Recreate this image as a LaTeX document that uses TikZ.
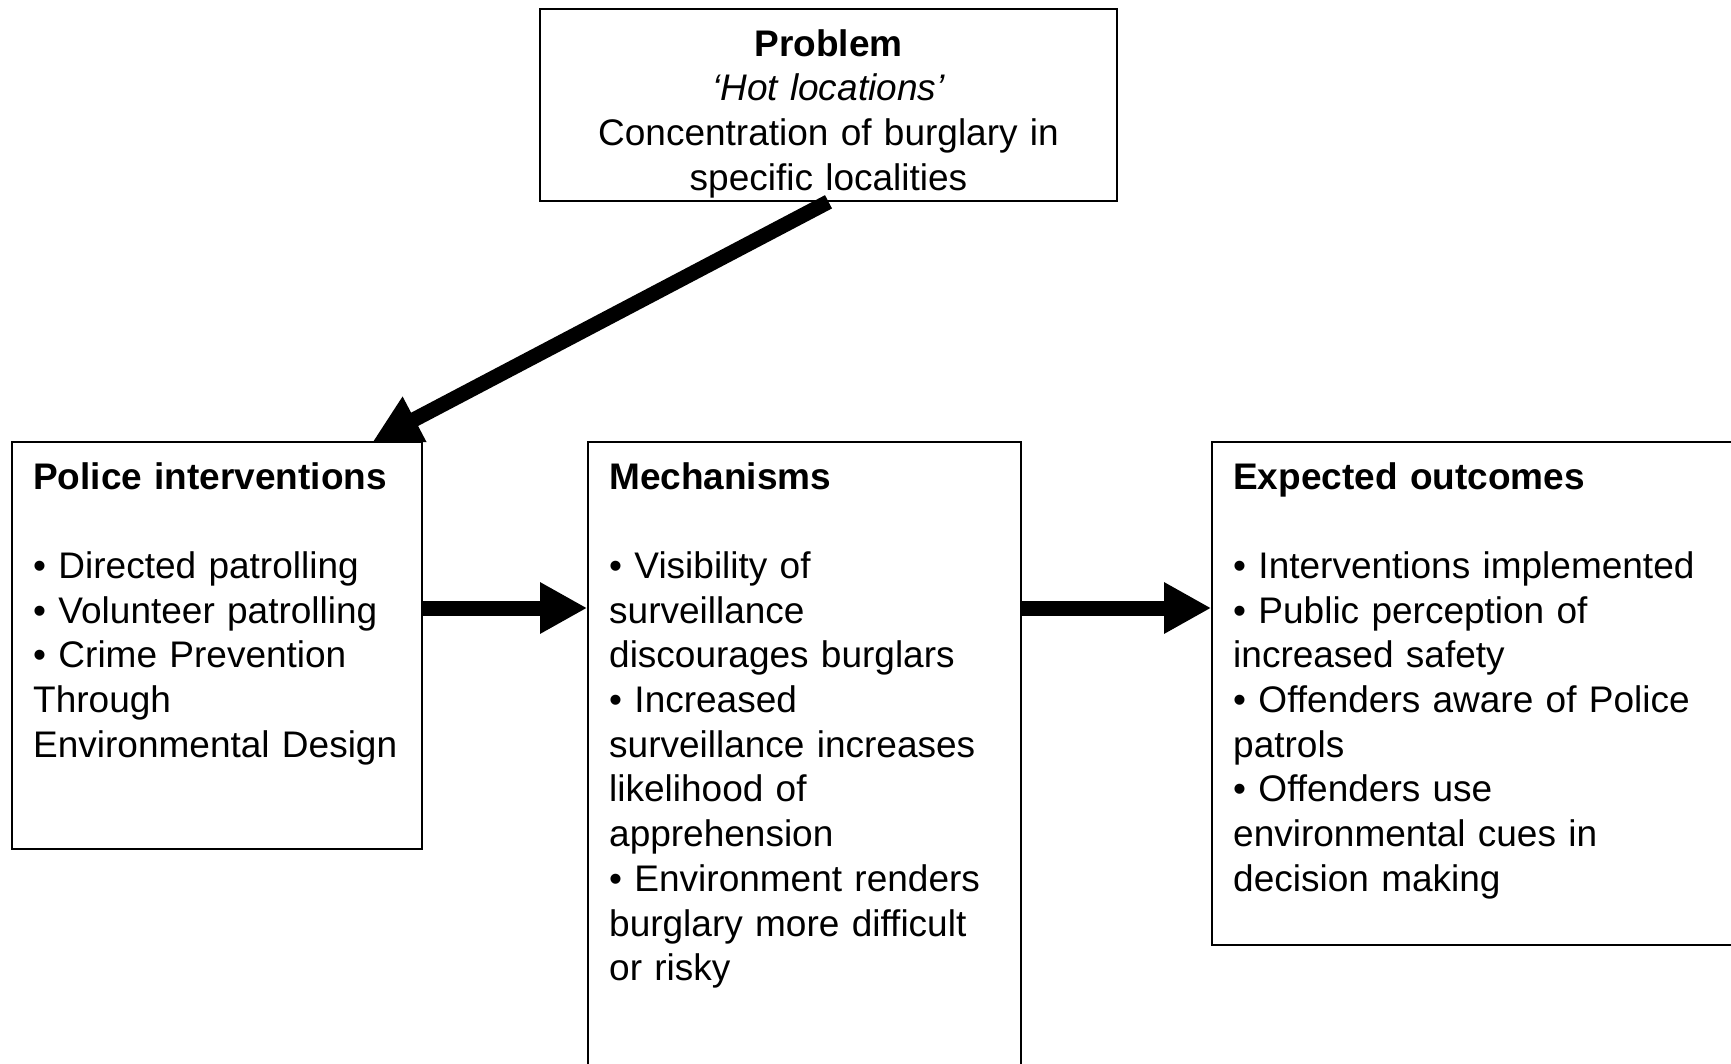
\documentclass[tikz,border=0pt]{standalone}
\usepackage{fontspec}
\setmainfont{Liberation Sans}
\usetikzlibrary{arrows.meta}

\begin{document}
\begin{tikzpicture}[x=1pt,y=-1pt,
    box/.style={draw,line width=1.6pt,inner sep=0pt},
    txt/.style={anchor=base west,inner sep=0pt,align=left,
      font=\fontsize{37}{44.7}\selectfont},
    flow/.style={line width=15pt,-{Triangle[length=47pt,width=48pt]}}]
  \clip (0,0) rectangle (1731,1063);
  \fill[white] (0,0) rectangle (1731,1063);
  % boxes
  \node[box,minimum width=577pt,minimum height=192pt] (problem) at (828.5,105) {};
  \node[box,minimum width=410pt,minimum height=407pt] (police) at (217,645.5) {};
  \node[box,minimum width=433pt,minimum height=658pt] (mech) at (804.5,771) {};
  \node[box,minimum width=548pt,minimum height=503pt] (outcome) at (1486,693.5) {};
  % texts
  \node[txt,anchor=base,align=center,text width=560pt] (problemtxt) at (828.5,56)
    {\textbf{Problem}\\\textit{‘Hot locations’}\\Concentration of burglary in\\specific localities};
  \node[txt,text width=385pt] (policetxt) at (33,489)
    {\textbf{Police interventions}\\[44.7pt]• Directed patrolling\\• Volunteer patrolling\\• Crime Prevention\\Through\\Environmental Design};
  \node[txt,text width=400pt] (mechtxt) at (609,489)
    {\textbf{Mechanisms}\\[44.7pt]• Visibility of\\surveillance\\discourages burglars\\• Increased\\surveillance increases\\likelihood of\\apprehension\\• Environment renders\\burglary more difficult\\or risky};
  \node[txt,text width=490pt] (outcometxt) at (1233,489)
    {\textbf{Expected outcomes}\\[44.7pt]• Interventions implemented\\• Public perception of\\increased safety\\• Offenders aware of Police\\patrols\\• Offenders use\\environmental cues in\\decision making};
  % arrows
  \coordinate (lvl) at (0,608);
  \draw[flow] (problem.south) -- ([xshift=156pt]police.north);
  \draw[flow] (police.east |- lvl) -- (mech.west |- lvl);
  \draw[flow] (mech.east |- lvl) -- (outcome.west |- lvl);
\end{tikzpicture}
\end{document}
